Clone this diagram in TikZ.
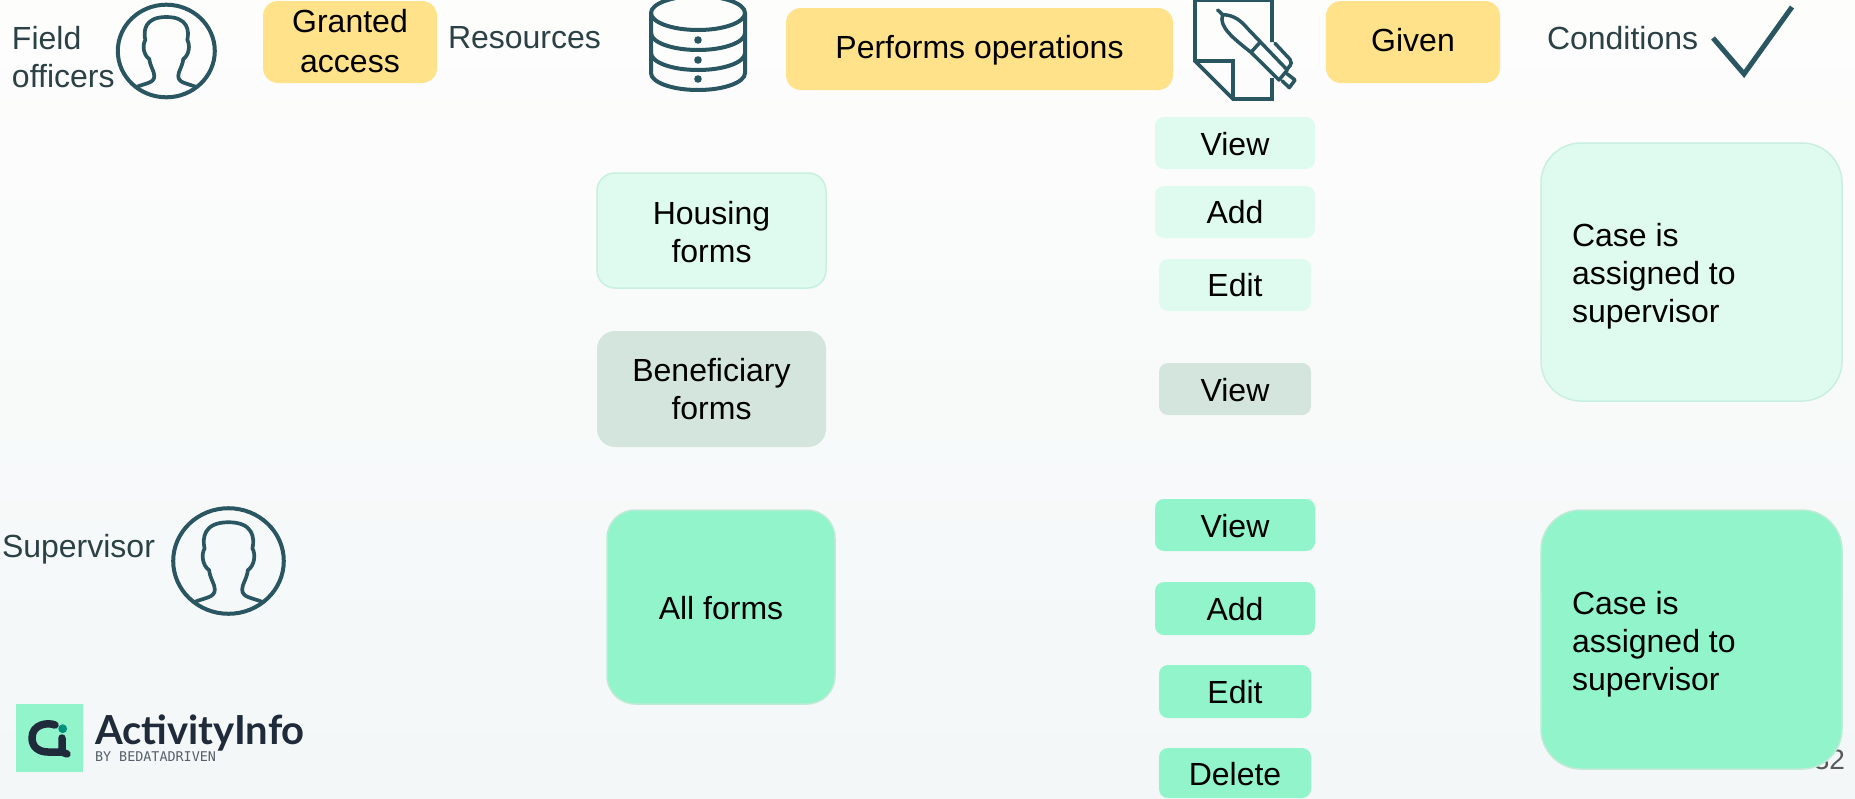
\documentclass[tikz,border=0pt]{standalone}
\usepackage{fontspec}
\setmainfont{Liberation Sans}
\newfontfamily\logofont{Lato}
\newfontfamily\logomono{DejaVu Sans Mono}
\definecolor{ink}{HTML}{2B4145}
\definecolor{icon}{HTML}{2A5661}
\definecolor{gold}{HTML}{FFE28A}
\definecolor{pale}{HTML}{DFFBF0}
\definecolor{pale2}{HTML}{C9EFE0}
\definecolor{sage}{HTML}{D3E5DD}
\definecolor{mint}{HTML}{92F4CA}
\definecolor{mintl}{HTML}{BFEBD6}
\definecolor{logodark}{HTML}{1F2A3A}
\definecolor{logodot}{HTML}{00917C}
\tikzset{
  x=1pt,y=-1pt,
  every node/.style={font=\fontsize{32}{38}\selectfont,inner sep=0pt,outer sep=0pt,align=center,text=black},
  hdr/.style={fill=gold,rounded corners=15pt},
  op/.style={rounded corners=9pt},
  mid/.style={rounded corners=18pt},
  big/.style={rounded corners=40pt,line width=1.5pt},
  lab/.style={text=ink,align=left},
  ico/.style={draw=icon,line width=4pt,fill=none},
}
\newcommand{\boxat}[8]{% name, style, x1,y1,x2,y2,text,dy
  \path[#2] (#3,#4) rectangle (#5,#6);
  \node (#1) at ({(#3+#5)/2},{(#4+#6)/2+#8}) {#7};}
\newcommand{\person}[3]{%
  \begin{scope}[shift={(#1,#2)},scale=#3]
    \draw[ico] (0,0) ellipse [x radius=48.5,y radius=46.3];
    \draw[icon,line width=3.7pt,line join=round] (-30,36) .. controls (-20,32) and (-12,32) .. (-12,25)
      .. controls (-12,20) and (-16,16) .. (-17,8) .. controls (-23,4) and (-24,-6) .. (-21,-11)
      .. controls (-23,-20) and (-22,-34) .. (0,-34) .. controls (22,-34) and (23,-20) .. (21,-11)
      .. controls (24,-6) and (23,4) .. (17,8) .. controls (16,16) and (12,20) .. (12,25)
      .. controls (12,32) and (20,32) .. (30,36);
  \end{scope}}
\begin{document}
\begin{tikzpicture}
\useasboundingbox (0,0) rectangle (1855,798);
\shade[top color={rgb,255:red,253;green,253;blue,252},bottom color={rgb,255:red,243;green,247;blue,248}] (0,0) rectangle (1855,798);
% top row
\node[lab,anchor=north west] (fo) at (12,26) {Field\\officers};
\person{166.3}{51}{1}
\boxat{granted}{hdr}{263}{1}{437}{83}{Granted\\[2pt]access}{-1}
\node[lab,anchor=west] (res) at (448,38) {Resources};
% database
\begin{scope}[shift={(698,0)}]
  \draw[ico] (0,13) ellipse [x radius=47,y radius=17];
  \draw[ico] (-47,13) -- (-47,73) arc[start angle=180,end angle=0,x radius=47,y radius=17] -- (47,13);
  \draw[ico] (-47,33) arc[start angle=180,end angle=0,x radius=47,y radius=17];
  \draw[ico] (-47,53) arc[start angle=180,end angle=0,x radius=47,y radius=17];
  \fill[icon] (0,40) circle (3.8) (0,60) circle (3.8) (0,79) circle (3.8);
\end{scope}
\boxat{perf}{hdr}{786}{8}{1173}{90}{Performs operations}{1}
% document + pen
\draw[ico,line width=3.7pt,line join=miter] (1272,42) -- (1272,0) -- (1195,0) -- (1195,61) -- (1233,99) -- (1272,99) -- (1272,78);
\draw[ico,line width=3.7pt] (1195,61) -- (1233,61) -- (1233,99);
\begin{scope}[shift={(1180,0)},scale=0.3333]
  \draw[icon,line width=3.5pt,line join=round,line cap=round]
    (113,30) -- (128,44) .. controls (165,45) and (185,65) .. (205,88) -- (322,210) -- (297,240) -- (213,157) .. controls (160,115) and (115,80) .. (128,44)
    (240,127) -- (213,157)
    (285,130) -- (330,178) .. controls (336,184) and (336,192) .. (322,207)
    (322,222) -- (345,240) -- (328,263) -- (307,243);
\end{scope}
\boxat{given}{hdr}{1326}{1}{1500}{83}{Given}{-2}
\node[lab,anchor=west] (cond) at (1547,38) {Conditions};
\draw[icon,line width=5pt] (1713,38) -- (1744,74) -- (1792,7);
% left group
\boxat{housing}{mid,line width=1.5pt,fill=pale,draw=pale2}{597}{173}{826}{288}{Housing\\forms}{2}
\boxat{benef}{mid,fill=sage}{597}{331}{826}{447}{Beneficiary\\forms}{0}
\boxat{all}{big,fill=mint,draw=mintl,rounded corners=28pt}{607}{510}{835}{704}{All forms}{1}
% ops
\boxat{v1}{op,fill=pale}{1155}{117}{1315}{169}{View}{1}
\boxat{a1}{op,fill=pale}{1155}{186}{1315}{238}{Add}{0}
\boxat{e1}{op,fill=pale}{1159}{259}{1311}{311}{Edit}{0}
\boxat{v2}{op,fill=sage}{1159}{363}{1311}{415}{View}{1}
\boxat{v3}{op,fill=mint}{1155}{499}{1315}{551}{View}{1}
\boxat{a3}{op,fill=mint}{1155}{582}{1315}{635}{Add}{1}
\boxat{e3}{op,fill=mint}{1159}{665}{1311}{718}{Edit}{1}
\boxat{d3}{op,fill=mint}{1159}{748}{1311}{798}{Delete}{1}
% page number
\node[text=black!65,anchor=east,font=\fontsize{28}{32}\selectfont] (pg) at (1845,760) {32};
% conditions
\path[big,fill=pale,draw=pale2] (1541,143) rectangle (1842,401);
\node[anchor=west,align=left] (c1) at (1572,276.5) {Case is\\assigned to\\supervisor};
\path[big,fill=mint,draw=mintl] (1541,510) rectangle (1842,769);
\node[anchor=west,align=left] (c2) at (1572,644.5) {Case is\\assigned to\\supervisor};
% supervisor
\node[lab,anchor=west] (sup) at (2,549.5) {Supervisor};
\person{228.5}{561}{1.14}
% logo
\fill[mint] (16,704) rectangle (83,772);
\draw[logodark,line width=7.5pt,line cap=round,line join=round] (55,725) .. controls (48,722) and (32,724) .. (32,738) .. controls (32,748) and (40,752) .. (48,752) -- (62,752) -- (67,754) (62,752) -- (62,738);
\fill[logodot] (62.7,728.7) circle (4.4);
\node[anchor=west,text=logodark,font=\logofont\bfseries\fontsize{40}{42}\selectfont] (ai) at (95,733) {ActivityInfo};
\node[anchor=west,text=logodark!75,font=\logomono\fontsize{13.4}{14}\selectfont] (by) at (95,757) {BY BEDATADRIVEN};
\end{tikzpicture}
\end{document}
